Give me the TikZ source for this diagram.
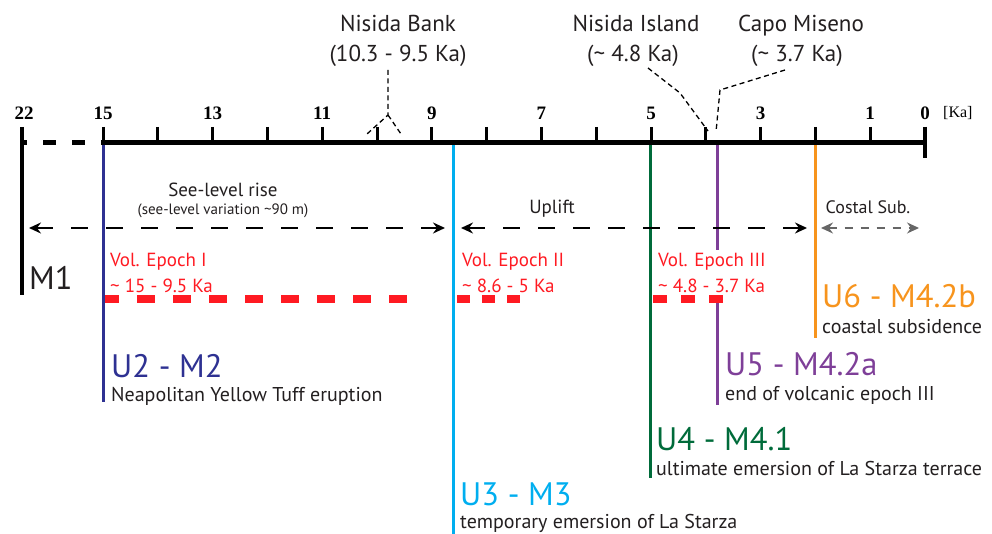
\documentclass[tikz,border=0pt]{standalone}
\usepackage{fontspec}
\setmainfont{Liberation Serif}
\newfontfamily\sansfam{PT Sans}
\usetikzlibrary{arrows.meta}

\definecolor{ublue}{HTML}{2E3192}
\definecolor{ucyan}{HTML}{00AEEF}
\definecolor{ugreen}{HTML}{006B3A}
\definecolor{upurple}{HTML}{7E3F98}
\definecolor{uorange}{HTML}{F7941D}
\definecolor{ered}{HTML}{FF1A22}
\definecolor{txt}{HTML}{231F20}

\begin{document}
\begin{tikzpicture}[x=1pt,y=-1pt,
  num/.style={inner sep=0pt,anchor=base,font=\bfseries\fontsize{19}{19}\selectfont},
  toplbl/.style={inner sep=0pt,anchor=base,text=txt,font=\sansfam\fontsize{23}{23}\selectfont},
  unitlbl/.style={inner sep=0pt,anchor=base west,font=\sansfam\fontsize{32.5}{32.5}\selectfont},
  desc/.style={inner sep=0pt,anchor=base west,text=txt,font=\sansfam\fontsize{20}{20}\selectfont},
  epoch/.style={inner xsep=1pt,inner ysep=4pt,anchor=base west,fill=white,text=ered,font=\sansfam\fontsize{19}{19}\selectfont},
  proc/.style={inner sep=0pt,anchor=base,text=txt,font=\sansfam\fontsize{19}{19}\selectfont},
  era/.style={line width=3pt},
  span/.style={line width=2pt,dash pattern=on 17pt off 18pt,
    {Stealth[length=12pt,width=11pt,inset=4pt]}-{Stealth[length=12pt,width=11pt,inset=4pt]}},
  leader/.style={line width=1.3pt,dash pattern=on 5pt off 3.5pt},
  redbar/.style={ered,line width=8pt}]
\useasboundingbox (0,0) rectangle (992,534);

% ---- reference points on the time axis (x = 925 - 54.8 * age) ----
\coordinate (a22) at (22,142.5);
\coordinate (a15) at (103,142.5);
\coordinate (a0)  at (925,142.5);
\coordinate (aU3) at (453,142.5);
\coordinate (aU4) at (650,142.5);
\coordinate (aU5) at (717,142.5);
\coordinate (aU6) at (815,142.5);

% ---- unit boundaries ----
\coordinate (eU2) at (103,402);
\coordinate (eU3) at (453,534);
\coordinate (eU4) at (650,478);
\coordinate (eU5) at (717,405);
\coordinate (eU6) at (815,338);
\draw[era,ublue]   (a15) -- (eU2);
\draw[era,ucyan]   (aU3) -- (eU3);
\draw[era,ugreen]  (aU4) -- (eU4);
\draw[era,upurple] (aU5) -- (eU5);
\draw[era,uorange] (aU6) -- (eU6);

% M1 boundary at 22 ka
\coordinate (m1top) at (22,127);
\coordinate (m1bot) at (22,295);
\draw[line width=3.5pt] (m1top) -- (m1bot);
\node[unitlbl,text=txt] (m1) at (29,290) {M1};

% ---- time axis ----
\draw[line width=5pt,dash pattern=on 13pt off 16pt,dash phase=8pt] (a22) -- (a15);
\draw[line width=5pt] ([xshift=-2pt]a15) -- (a0);
\foreach \v in {0,...,15}{
  \pgfmathsetmacro\xx{925-54.8*\v}
  \draw[line width=3pt] (\xx,127) -- (\xx,142.5);
}
\coordinate (endtop) at (925,127);
\coordinate (endbot) at (925,158);
\draw[line width=4.5pt] (endtop) -- (endbot);
\foreach \v in {15,13,11,9,7,5,3,1,0}{
  \pgfmathsetmacro\xx{925-54.8*\v}
  \node[num] (n\v) at (\xx,120) {\v};
}
\node[num] (n22) at (24,120) {22};
\node[inner sep=0pt,anchor=base west,font=\fontsize{16}{16}\selectfont] (ka) at (943,118) {[Ka]};

% ---- events above the axis ----
\node[toplbl] (nb1) at (398,32) {Nisida Bank};
\node[toplbl] (nb2) at (398,62) {(10.3 - 9.5 Ka)};
\node[toplbl] (ni1) at (636,32) {Nisida Island};
\node[toplbl] (ni2) at (633,62) {(\textasciitilde{} 4.8 Ka)};
\node[toplbl] (cm1) at (801,32) {Capo Miseno};
\node[toplbl] (cm2) at (797,62) {(\textasciitilde{} 3.7 Ka)};

\coordinate (nbA) at (388,70);
\coordinate (nbB) at (388,115);
\coordinate (nbL) at (367,134);
\coordinate (nbR) at (401,134);
\draw[leader] (nbA) -- (nbB) -- (nbL);
\draw[leader] (nbB) -- (nbR);
\coordinate (niA) at (648,68);
\coordinate (niB) at (680,93);
\coordinate (niC) at (708,131);
\draw[leader] (niA) -- (niB) -- (niC);
\coordinate (cmA) at (785,70);
\coordinate (cmB) at (720,90);
\coordinate (cmC) at (716,132);
\draw[leader] (cmA) -- (cmB) -- (cmC);

% ---- sea-level / vertical movement phases ----
\node[proc] (slr) at (223,197) {See-level rise};
\node[proc,font=\sansfam\fontsize{15}{15}\selectfont] (slv) at (223,215) {(see-level variation \textasciitilde 90 m)};
\node[proc] (upl) at (552,214) {Uplift};
\node[proc,font=\sansfam\fontsize{18}{18}\selectfont] (csub) at (868,214) {Costal Sub.};

\coordinate (s1a) at (29,228);
\coordinate (s1b) at (445,228);
\coordinate (s2a) at (461,228);
\coordinate (s2b) at (807,228);
\coordinate (s3a) at (821,228);
\coordinate (s3b) at (919,228);
\draw[span] (s1a) -- (s1b);
\draw[span] (s2a) -- (s2b);
\draw[span,line width=1.3pt,black!60,dash pattern=on 8pt off 8pt] (s3a) -- (s3b);

% ---- volcanic epochs ----
\coordinate (r1a) at (105,299);
\coordinate (r1b) at (407,299);
\coordinate (r2a) at (457,299);
\coordinate (r2b) at (520,299);
\coordinate (r3a) at (653,299);
\coordinate (r3b) at (723,299);
\node[epoch] (ep1) at (109,267) {Vol. Epoch I};
\node[epoch] (ep1t) at (109,293) {\textasciitilde{} 15 - 9.5 Ka};
\node[epoch] (ep2) at (461,267) {Vol. Epoch II};
\node[epoch] (ep2t) at (461,293) {\textasciitilde{} 8.6 - 5 Ka};
\node[epoch] (ep3) at (657,267) {Vol. Epoch III};
\node[epoch] (ep3t) at (657,293) {\textasciitilde{} 4.8 - 3.7 Ka};
\draw[redbar,dash pattern=on 18pt off 18pt,dash phase=4pt] (r1a) -- (r1b);
\draw[redbar,dash pattern=on 13pt off 12pt] (r2a) -- (r2b);
\draw[redbar,dash pattern=on 14pt off 14pt] (r3a) -- (r3b);

% ---- unit labels ----
\node[unitlbl,text=ublue] (u2) at (111,377) {U2 - M2};
\node[desc] (d2) at (111,401) {Neapolitan Yellow Tuff eruption};
\node[unitlbl,text=ucyan] (u3) at (460,505) {U3 - M3};
\node[desc] (d3) at (460,528) {temporary emersion of La Starza};
\node[unitlbl,text=ugreen] (u4) at (656,450) {U4 - M4.1};
\node[desc] (d4) at (656,475) {ultimate emersion of La Starza terrace};
\node[unitlbl,text=upurple] (u5) at (725,375) {U5 - M4.2a};
\node[desc] (d5) at (725,400) {end of volcanic epoch III};
\node[unitlbl,text=uorange] (u6) at (822,307) {U6 - M4.2b};
\node[desc] (d6) at (822,333) {coastal subsidence};
\end{tikzpicture}
\end{document}
